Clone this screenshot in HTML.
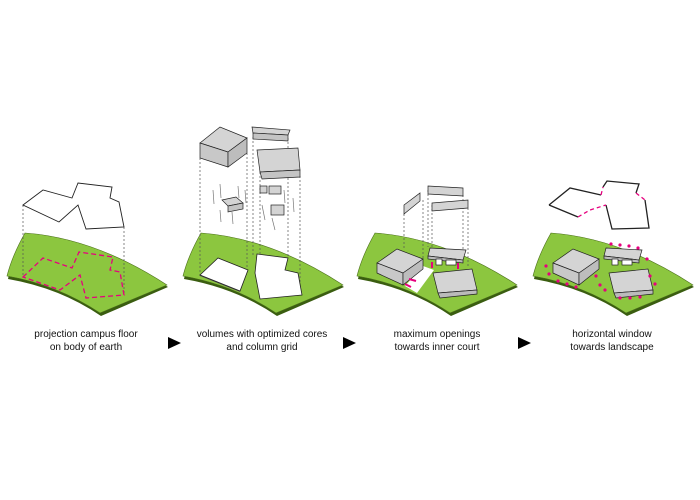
<!DOCTYPE html>
<html><head><meta charset="utf-8"><style>
html,body{margin:0;padding:0;background:#fff;width:700px;height:500px;overflow:hidden}
.t{font-family:"Liberation Sans",Arial,sans-serif;font-size:10px;fill:#111;text-anchor:middle}
</style></head><body>
<svg width="700" height="500" viewBox="0 0 700 500" xmlns="http://www.w3.org/2000/svg">
<defs>
<g id="ground">
<path d="M8,279 Q12,258 25,234 Q95,240 168,287 L101,316 Q60,288 8,279 Z" fill="#3a5d10"/>
<path d="M7,276 Q12,256 25,233 Q95,238 167,285 L100,313 Q58,285 7,276 Z" fill="#8cc63f" stroke="#4a6e1a" stroke-width="0.6"/>
</g>
</defs>
<use href="#ground"/>
<use href="#ground" x="176"/>
<use href="#ground" x="350"/>
<use href="#ground" x="526"/>

<g stroke="#555" stroke-width="0.7" stroke-dasharray="2,2" fill="none">
<line x1="23" y1="205" x2="23" y2="277"/><line x1="124" y1="227" x2="124" y2="295"/>
</g>
<polygon points="23,205 43,190 72,198 78,183 112,187 110,198 119,202 124,227 86,229 78,205 59,222" fill="#fff" stroke="#222" stroke-width="0.9"/>
<polygon points="23,277 43,258 72,268 79,252 113,257 110,270 120,272 124,295 86,298 80,275 60,290" fill="none" stroke="#e6007e" stroke-width="1.3" stroke-dasharray="5,3"/>

<g stroke="#555" stroke-width="0.7" stroke-dasharray="2,2" fill="none">
<line x1="200" y1="158" x2="200" y2="276"/><line x1="247" y1="153" x2="247" y2="268"/>
<line x1="253" y1="137" x2="253" y2="256"/><line x1="260" y1="172" x2="260" y2="296"/>
<line x1="288" y1="138" x2="288" y2="258"/><line x1="300" y1="176" x2="300" y2="293"/>
</g>
<polygon points="200,276 218,258 248,271 240,292" fill="#555"/>
<polygon points="200,275 218,258 248,270 240,291" fill="#fff" stroke="#222" stroke-width="0.8"/>
<polygon points="257,254 288,258 285,270 298,273 302,295 260,299 255,273" fill="#fff" stroke="#222" stroke-width="0.8"/>
<g stroke="#222" stroke-width="0.7" fill="#d4d4d4">
<polygon points="200,143 220,127 247,138 228,152"/>
<polygon points="200,143 228,152 228,167 200,158" fill="#c8c8c8"/>
<polygon points="228,152 247,138 247,153 228,167" fill="#bdbdbd"/>
<polygon points="252,127 290,130 288,135 253,133"/>
<polygon points="253,133 288,135 288,141 253,139" fill="#c4c4c4"/>
<polygon points="257,150 298,148 300,170 260,172"/>
<polygon points="260,172 300,170 300,177 262,179" fill="#c4c4c4"/>
<polygon points="222,200 236,197 243,203 228,206"/>
<polygon points="228,206 243,203 243,209 228,212" fill="#c4c4c4"/>
<rect x="260" y="186" width="7" height="7"/><rect x="269" y="186" width="12" height="8"/>
<rect x="271" y="205" width="13" height="10"/>
</g>
<g stroke="#777" stroke-width="0.7">
<line x1="213" y1="190" x2="214" y2="204"/><line x1="220" y1="184" x2="221" y2="198"/><line x1="238" y1="186" x2="239" y2="198"/><line x1="245" y1="190" x2="246" y2="203"/>
<line x1="220" y1="210" x2="221" y2="222"/><line x1="232" y1="212" x2="233" y2="224"/>
<line x1="262" y1="205" x2="265" y2="220"/><line x1="272" y1="218" x2="275" y2="230"/><line x1="293" y1="198" x2="294" y2="212"/>
<line x1="284" y1="190" x2="285" y2="203"/>
</g>

<g stroke="#555" stroke-width="0.7" stroke-dasharray="2,2" fill="none">
<line x1="404" y1="214" x2="404" y2="249"/><line x1="423" y1="200" x2="423" y2="259"/>
<line x1="428" y1="190" x2="428" y2="247"/><line x1="432" y1="205" x2="432" y2="249"/>
<line x1="463" y1="195" x2="463" y2="250"/><line x1="468" y1="208" x2="468" y2="268"/>
</g>
<g stroke="#222" stroke-width="0.7" fill="#d4d4d4">
<polygon points="404,205 420,193 420,201 404,214"/>
<polygon points="428,186 463,188 463,196 428,194"/>
<polygon points="432,203 468,200 468,208 432,211"/>
</g>
<polygon points="405,286 423,266 434,270 417,293" fill="#fff"/>
<g stroke="#222" stroke-width="0.7" fill="#d4d4d4">
<polygon points="430,248 466,250 463,260 428,256"/>
<polygon points="428,256 463,260 463,263 428,259" fill="#bbb"/>
<rect x="436" y="259" width="6" height="6" fill="#fff"/><rect x="446" y="260" width="10" height="5" fill="#fff"/>
<polygon points="377,263 397,249 423,259 403,273"/>
<polygon points="377,263 403,273 403,285 377,273" fill="#c8c8c8"/>
<polygon points="403,273 423,259 423,269 403,285" fill="#bdbdbd"/>
<polygon points="433,273 472,269 477,290 438,293"/>
<polygon points="438,293 477,290 477,294 440,298" fill="#bbb"/>
</g>
<g stroke="#e6007e" stroke-width="2">
<line x1="409" y1="279" x2="416" y2="281"/><line x1="405" y1="284" x2="411" y2="287"/>
<line x1="432" y1="262" x2="432" y2="268"/><line x1="458" y1="263" x2="458" y2="269"/>
</g>

<g fill="none" stroke="#222" stroke-width="1.3">
<polyline points="549,205 570,188 601,195"/>
<polyline points="549,205 578,217"/>
<polyline points="603,187 607,181 639,184 636,193"/>
<polyline points="645,200 649,228 612,229 606,205"/>
</g>
<g fill="none" stroke="#e6007e" stroke-width="1.3" stroke-dasharray="4,3">
<polyline points="578,217 590,210 606,205"/>
<polyline points="601,195 603,187"/><polyline points="636,193 645,200"/>
</g>
<g stroke="#222" stroke-width="0.7" fill="#d4d4d4">
<polygon points="606,248 642,250 639,260 604,256"/>
<polygon points="604,256 639,260 639,263 604,259" fill="#bbb"/>
<rect x="612" y="259" width="6" height="6" fill="#fff"/><rect x="622" y="260" width="10" height="5" fill="#fff"/>
<polygon points="553,263 573,249 599,259 579,273"/>
<polygon points="553,263 579,273 579,285 553,273" fill="#c8c8c8"/>
<polygon points="579,273 599,259 599,269 579,285" fill="#bdbdbd"/>
<polygon points="609,273 648,269 653,290 614,293"/>
<polygon points="614,293 653,290 653,294 616,298" fill="#bbb"/>
</g>
<g fill="#e6007e">
<circle cx="611" cy="244" r="1.6"/><circle cx="620" cy="245" r="1.6"/><circle cx="629" cy="246" r="1.6"/><circle cx="638" cy="248" r="1.6"/><circle cx="647" cy="259" r="1.6"/>
<circle cx="546" cy="266" r="1.6"/><circle cx="549" cy="274" r="1.6"/><circle cx="558" cy="281" r="1.6"/><circle cx="567" cy="284" r="1.6"/><circle cx="576" cy="287" r="1.6"/>
<circle cx="596" cy="276" r="1.6"/><circle cx="600" cy="285" r="1.6"/><circle cx="605" cy="290" r="1.6"/>
<circle cx="620" cy="298" r="1.6"/><circle cx="630" cy="298" r="1.6"/><circle cx="640" cy="297" r="1.6"/><circle cx="650" cy="276" r="1.6"/><circle cx="655" cy="284" r="1.6"/>
</g>

<text class="t" x="86" y="337">projection campus floor</text>
<text class="t" x="86" y="350">on body of earth</text>
<text class="t" x="262" y="337">volumes with optimized cores</text>
<text class="t" x="262" y="350">and column grid</text>
<text class="t" x="437" y="337">maximum openings</text>
<text class="t" x="437" y="350">towards inner court</text>
<text class="t" x="612" y="337">horizontal window</text>
<text class="t" x="612" y="350">towards landscape</text>
<polygon points="168,337 181,343 168,349" fill="#000"/>
<polygon points="343,337 356,343 343,349" fill="#000"/>
<polygon points="518,337 531,343 518,349" fill="#000"/>
</svg>
</body></html>
